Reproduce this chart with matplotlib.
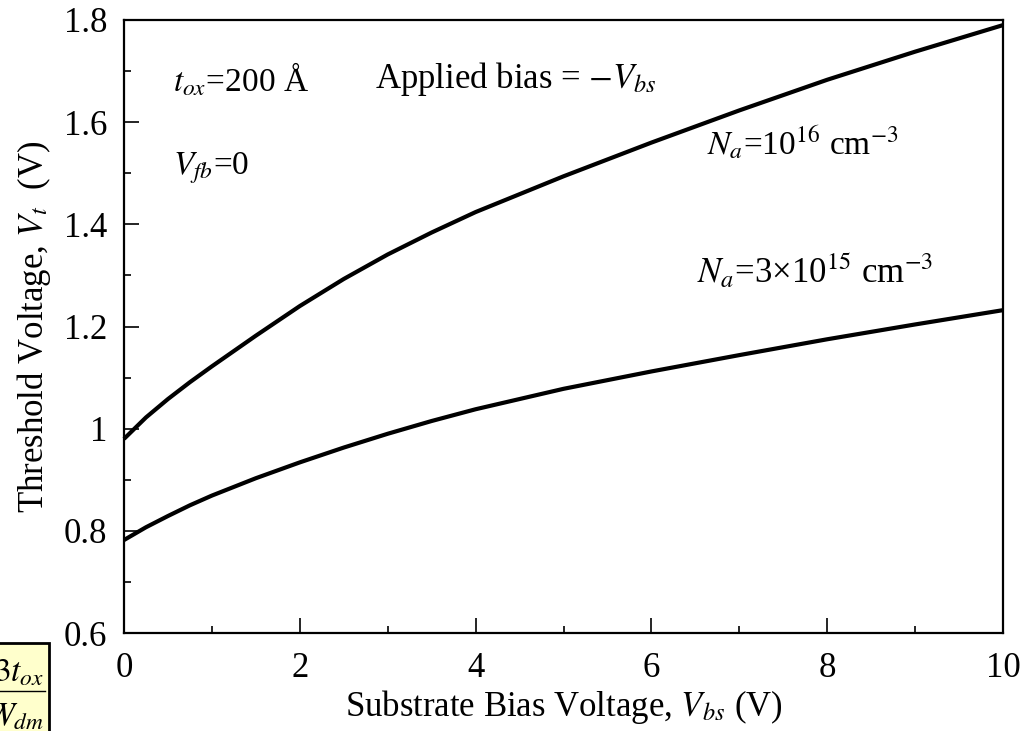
import numpy as np
import matplotlib
matplotlib.use("Agg")
import matplotlib.pyplot as plt
from matplotlib.patches import Rectangle
from matplotlib.lines import Line2D

plt.rcParams['font.family'] = ['Liberation Serif', 'DejaVu Serif']
plt.rcParams['mathtext.fontset'] = 'stix'

# substrate bias (V) and threshold voltage
vbs = [0, 0.25, 0.5, 0.75, 1, 1.5, 2, 2.5, 3, 3.5, 4, 5, 6, 7, 8, 9, 10]
vt_1e16 = [0.98, 1.022, 1.058, 1.091, 1.122, 1.182, 1.240, 1.293, 1.341, 1.384,
           1.424, 1.494, 1.560, 1.623, 1.683, 1.738, 1.79]
vt_3e15 = [0.782, 0.807, 0.829, 0.850, 0.869, 0.903, 0.934, 0.963, 0.990, 1.015,
           1.038, 1.078, 1.112, 1.144, 1.175, 1.204, 1.232]

x_ticks = [0, 2, 4, 6, 8, 10]
y_ticks = [0.6, 0.8, 1.0, 1.2, 1.4, 1.6, 1.8]
y_ticklabels = ['0.6', '0.8', '1', '1.2', '1.4', '1.6', '1.8']

fig = plt.figure(figsize=(10.35, 7.31), dpi=100)
ax = fig.add_axes([124 / 1035, 98 / 731, 879 / 1035, 613 / 731])

ax.plot(vbs, vt_1e16, color='black', lw=3, solid_capstyle='butt',
        solid_joinstyle='round', clip_on=False)
ax.plot(vbs, vt_3e15, color='black', lw=3, solid_capstyle='butt',
        solid_joinstyle='round', clip_on=False)

ax.set_xlim(0, 10)
ax.set_ylim(0.6, 1.8)
ax.set_xticks(x_ticks)
ax.set_xticks([1, 3, 5, 7, 9], minor=True)
ax.set_yticks(y_ticks)
ax.set_yticklabels(y_ticklabels)
ax.set_yticks([0.7, 0.9, 1.1, 1.3, 1.5, 1.7], minor=True)
ax.tick_params(which='both', direction='in', width=1.2, colors='black')
ax.tick_params(which='major', length=11, labelsize=25)
ax.tick_params(axis='y', which='major', pad=12)
ax.tick_params(axis='x', which='major', pad=14)
ax.tick_params(which='minor', length=5)
for s in ax.spines.values():
    s.set_linewidth(1.6)

ax.set_xlabel('Substrate Bias Voltage, $V_{bs}$ (V)', fontsize=25, labelpad=2)
ax.set_ylabel('Threshold Voltage, $V_t$  (V)', fontsize=25, labelpad=8)

ax.text(0.56, 1.66, '$t_{ox}$=200 Å', fontsize=24, va='baseline')
ax.text(0.56, 1.497, '$V_{fb}$=0', fontsize=24, va='baseline')
ax.text(2.86, 1.667, 'Applied bias = $-V_{bs}$', fontsize=25, va='baseline')
ax.text(6.63, 1.536, '$N_a$=10$^{16}$ cm$^{-3}$', fontsize=24, va='baseline')
ax.text(6.52, 1.285, '$N_a$=3×10$^{15}$ cm$^{-3}$', fontsize=25, va='baseline')

# clipped yellow formula box at the lower left corner
fig.patches.append(Rectangle((-0.05, -0.05), 0.0973, 0.1704, transform=fig.transFigure,
                             facecolor='#ffffcc', edgecolor='black', lw=2))
fig.lines.append(Line2D([0, 45 / 1035], [40 / 731, 40 / 731], transform=fig.transFigure,
                        color='black', lw=1))
fig.text(44 / 1035, 50 / 731, '$3t_{ox}$', fontsize=24, ha='right', va='baseline')
fig.text(44 / 1035, 5 / 731, '$W_{dm}$', fontsize=24, ha='right', va='baseline')

fig.savefig('out.png', dpi=100)
